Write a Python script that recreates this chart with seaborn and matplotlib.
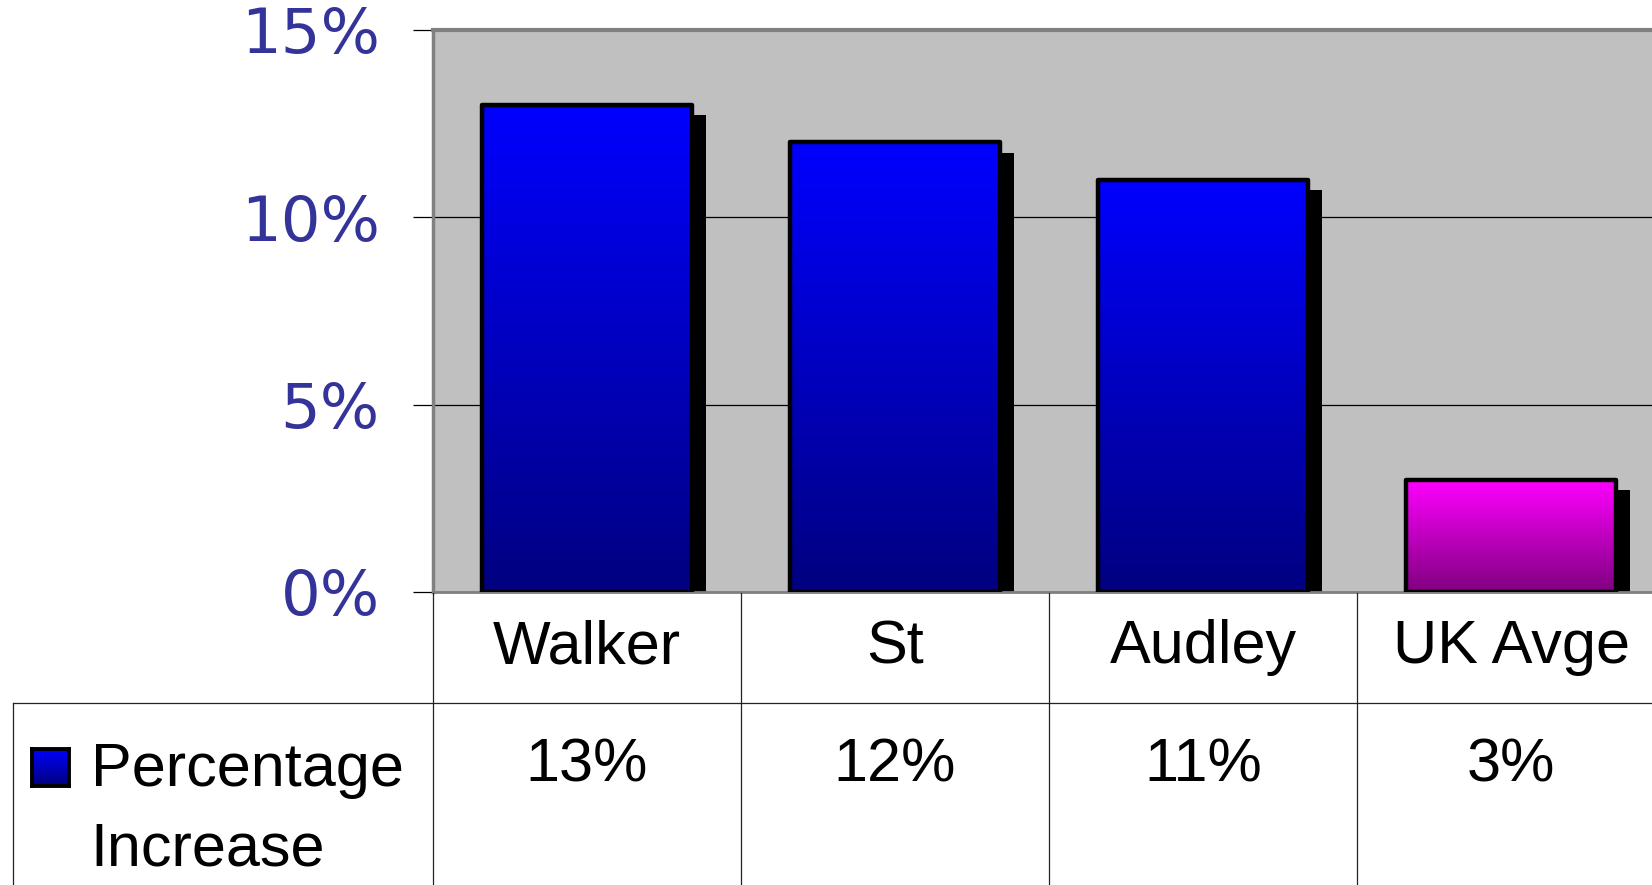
import numpy as np
import matplotlib
matplotlib.use('Agg')
import matplotlib.pyplot as plt
import seaborn as sns
from matplotlib.patches import Rectangle
from matplotlib.lines import Line2D
from matplotlib.colors import to_rgb
from matplotlib.transforms import blended_transform_factory, offset_copy

# data
categories = ['Walker', 'St', 'Audley', 'UK Avge']
values = [13, 12, 11, 3]
value_labels = ['13%', '12%', '11%', '3%']
series_name = ['Percentage', 'Increase']
y_ticks = [0, 5, 10, 15]
y_tick_labels = ['0%', '5%', '10%', '15%']

top_colors = ['#0000ff', '#0000ff', '#0000ff', '#ff00ff']
bottom_colors = ['#000080', '#000080', '#000080', '#800080']

W, H = 1652, 885
fig = plt.figure(figsize=(W / 100, H / 100), dpi=100)
ax = fig.add_axes([433 / W, 293 / H, 1232 / W, 562 / H])

sns.barplot(x=categories, y=values, hue=categories, palette=top_colors, legend=False,
            width=0.68, edgecolor='black', linewidth=3.2, saturation=1, ax=ax)


def gradient(c_top, c_bot, n=256):
    t = np.linspace(0, 1, n)[:, None, None]
    return np.array(to_rgb(c_bot)) * (1 - t) + np.array(to_rgb(c_top)) * t


# shadow + gradient fill for each bar
shadow_tf = offset_copy(ax.transData, fig=fig, x=14.5, y=-10.5, units='dots')
for bar, c_top, c_bot in zip(ax.patches, top_colors, bottom_colors):
    x0, w, h = bar.get_x(), bar.get_width(), bar.get_height()
    ax.add_patch(Rectangle((x0, 0), w, h, transform=shadow_tf, facecolor='black',
                           edgecolor='none', zorder=1.5))
    im = ax.imshow(gradient(c_top, c_bot), extent=[x0, x0 + w, 0, h], origin='lower',
                   aspect='auto', zorder=2, interpolation='bilinear')
    im.set_clip_path(bar)
    bar.set_facecolor('none')
    bar.set_zorder(3)
    bar.set_joinstyle('round')

ax.set_facecolor('#c0c0c0')
ax.set_xlim(-0.5, 3.5)
ax.set_ylim(0, 15)
ax.set_xticks([])
ax.set_xlabel('')
ax.set_ylabel('')
ax.set_yticks(y_ticks)
ax.set_yticklabels(y_tick_labels, fontsize=45, color='#333399', family='DejaVu Sans')
ax.tick_params(axis='y', length=14.4, width=0.9, color='black', pad=24)
ax.yaxis.grid(True, color='black', lw=0.9)
ax.set_axisbelow(True)

ax.spines['top'].set_color('#808080')
ax.spines['top'].set_linewidth(3)
ax.spines['left'].set_color('#808080')
ax.spines['left'].set_linewidth(2.5)
ax.spines['bottom'].set_color('#808080')
ax.spines['bottom'].set_linewidth(2)
ax.spines['right'].set_visible(False)

# data table under the chart
tr = blended_transform_factory(ax.transData, fig.transFigure)
line_kw = dict(color='#222222', lw=0.9)
for xb in np.arange(-0.5, len(categories), 1):
    fig.add_artist(Line2D([xb, xb], [0, 292 / H], transform=tr, **line_kw))
fig.add_artist(Line2D([12.6 / W, 1], [182 / H, 182 / H], transform=fig.transFigure, **line_kw))
fig.add_artist(Line2D([12.6 / W, 12.6 / W], [0, 182 / H], transform=fig.transFigure, **line_kw))

font_tab = dict(fontsize=44, family='Liberation Sans', color='black', ha='center', va='baseline')
for i, (cat, lab) in enumerate(zip(categories, value_labels)):
    fig.text(i, (H - 663.5) / H, cat, transform=tr, **font_tab)
    fig.text(i, (H - 781) / H, lab, transform=tr, **font_tab)

# legend key
kax = fig.add_axes([31.5 / W, (H - 785.5) / H, 37 / W, 37 / H])
kax.imshow(gradient(top_colors[0], bottom_colors[0]), origin='lower', aspect='auto',
           extent=[0, 1, 0, 1], interpolation='bilinear')
kax.set_xticks([])
kax.set_yticks([])
for s in kax.spines.values():
    s.set_linewidth(2.8)
    s.set_color('black')

fig.text(90.6 / W, (H - 786) / H, series_name[0], fontsize=44, family='Liberation Sans',
         color='black', ha='left', va='baseline')
fig.text(90.6 / W, (H - 865) / H, series_name[1], fontsize=44, family='Liberation Sans',
         color='black', ha='left', va='baseline')

fig.savefig('out.png', dpi=100)
